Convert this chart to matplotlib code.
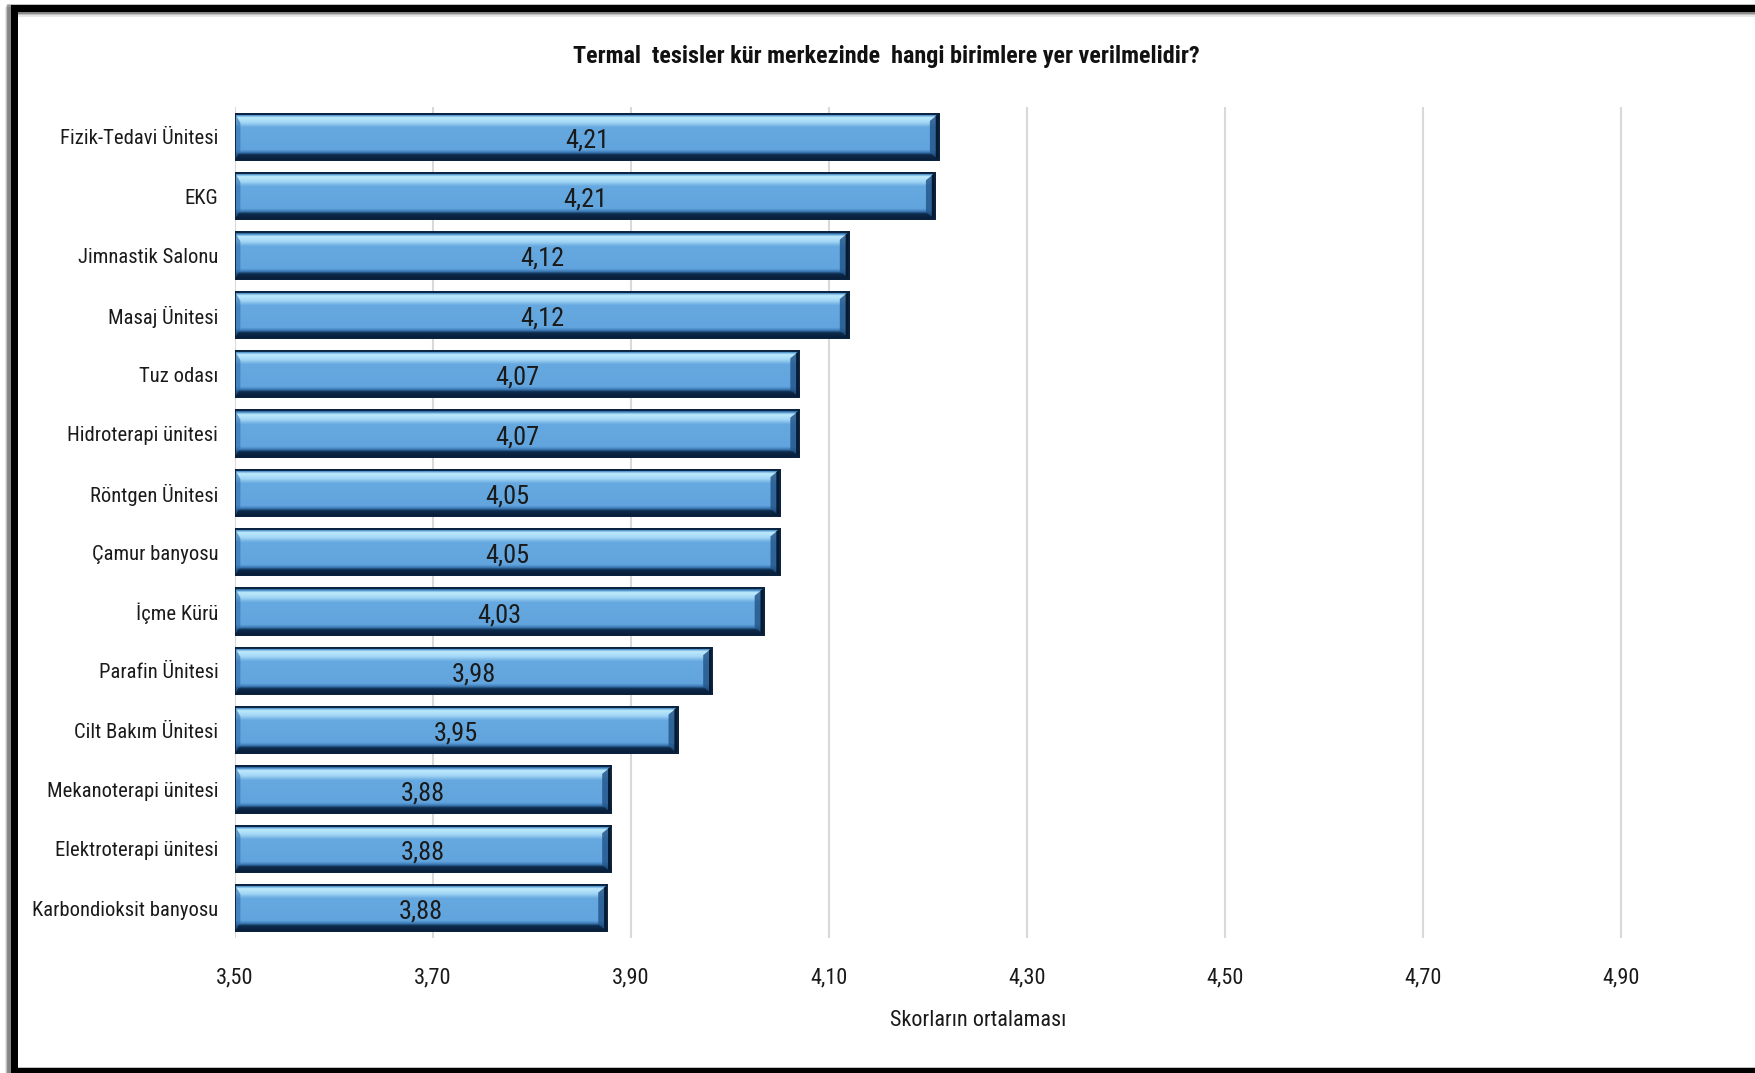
import numpy as np
import matplotlib
matplotlib.use("Agg")
import matplotlib.pyplot as plt
from matplotlib import font_manager
from matplotlib.patches import Polygon, Rectangle
from matplotlib.lines import Line2D
from matplotlib.ticker import FixedLocator, FuncFormatter

# ---- data -------------------------------------------------------------
categories = [
    "Fizik-Tedavi Ünitesi",
    "EKG",
    "Jimnastik Salonu",
    "Masaj Ünitesi",
    "Tuz odası",
    "Hidroterapi ünitesi",
    "Röntgen Ünitesi",
    "Çamur banyosu",
    "İçme Kürü",
    "Parafin Ünitesi",
    "Cilt Bakım Ünitesi",
    "Mekanoterapi ünitesi",
    "Elektroterapi ünitesi",
    "Karbondioksit banyosu",
]
scores = [4.211, 4.207, 4.12, 4.12, 4.07, 4.07, 4.05, 4.05, 4.034,
          3.982, 3.947, 3.88, 3.88, 3.876]
x_ticks = [3.50, 3.70, 3.90, 4.10, 4.30, 4.50, 4.70, 4.90]
x_min, x_max = 3.50, 5.10

title = "Termal  tesisler kür merkezinde  hangi birimlere yer verilmelidir?"
x_label = "Skorların ortalaması"

# ---- fonts: prefer a condensed sans face if one is installed -------------
entries = font_manager.fontManager.ttflist
names = {f.name for f in entries}
family, stretch = "Roboto", "normal"
for cand in ["Roboto Condensed", "Liberation Sans Narrow", "Open Sans Condensed"]:
    if cand in names:
        family = cand
        break
else:
    cond = [f for f in entries
            if f.stretch in ("condensed", "semi-condensed", "extra-condensed")
            and "sans" in f.name.lower() and "mono" not in f.name.lower()]
    if cond:
        family, stretch = cond[0].name, cond[0].stretch
    elif "Roboto" not in names:
        family = "Liberation Sans"
plt.rcParams["font.family"] = [family, "DejaVu Sans"]
plt.rcParams["font.stretch"] = stretch

W, H, DPI = 1755, 1073, 100
fig = plt.figure(figsize=(W / DPI, H / DPI), dpi=DPI, facecolor="white")
renderer = fig.canvas.get_renderer()


def fit_size(text, target_px, max_size, weight="normal"):
    """Largest font size (<= max_size) whose rendered width fits target_px."""
    t = fig.text(0, 0, text, fontsize=max_size, fontweight=weight)
    wpx = t.get_window_extent(renderer).width
    t.remove()
    return min(max_size, max_size * target_px / wpx)


cat_size = min(fit_size(c, 186, 18) for c in categories)
title_size = fit_size(title, 630, 19, "bold")
val_size = fit_size("4,21", 46, 19)
tick_size = fit_size("3,50", 40, 16)
xlabel_size = fit_size(x_label, 176, 17)

# plot area: right part runs past the figure edge
ax = fig.add_axes([235 / W, 1 - 938 / H, (1819 - 235) / W, (938 - 107) / H])
ax.set_facecolor("white")

n = len(categories)
ypos = np.arange(n)
bar_h = 0.78
widths = np.array(scores) - x_min

bars = ax.barh(ypos, widths, left=x_min, height=bar_h, color="#62a5de",
               edgecolor="#0c2544", linewidth=1.3, zorder=3)

ax.set_xlim(x_min, x_max)
ax.set_ylim(n - 0.5, -0.5)

# vertical shading profile of each bar (top -> bottom)
stops = [
    (0.00, "#1c3d62"),
    (0.04, "#3f86c6"),
    (0.09, "#bde9fc"),
    (0.20, "#a4d7f6"),
    (0.30, "#66a9e0"),
    (0.78, "#62a5de"),
    (0.84, "#3c7ab6"),
    (0.89, "#0d2c4e"),
    (1.00, "#081d36"),
]
pos = np.array([s[0] for s in stops])
cols = np.array([matplotlib.colors.to_rgb(s[1]) for s in stops])
rows = np.linspace(0, 1, 120)
grad = np.stack([np.interp(rows, pos, cols[:, k]) for k in range(3)], axis=1)
grad = grad[:, None, :]

px_per_unit = (ax.get_position().width * W) / (x_max - x_min)
bevel = 9 / px_per_unit  # right-end bevel, in data units

for p in bars:
    x0, y0 = p.get_x(), p.get_y()
    w, h = p.get_width(), p.get_height()
    im = ax.imshow(grad, extent=(x0, x0 + w, y0 + h, y0), aspect="auto",
                   interpolation="bilinear", zorder=3.1, origin="upper")
    im.set_clip_path(p)
    x1 = x0 + w
    # darker bevel at the right end
    ax.add_patch(Polygon([(x1 - bevel, y0 + 0.16 * h), (x1, y0),
                          (x1, y0 + h), (x1 - bevel, y0 + 0.84 * h)],
                         closed=True, facecolor="#24588d", edgecolor="none",
                         alpha=0.85, zorder=3.2))
    ax.add_patch(Polygon([(x1 - 0.35 * bevel, y0 + 0.05 * h), (x1, y0),
                          (x1, y0 + h), (x1 - 0.35 * bevel, y0 + 0.95 * h)],
                         closed=True, facecolor="#071a30", edgecolor="none",
                         zorder=3.3))
    # small bevel at the left end
    ax.add_patch(Polygon([(x0, y0), (x0 + 0.6 * bevel, y0 + 0.2 * h),
                          (x0 + 0.6 * bevel, y0 + 0.8 * h), (x0, y0 + h)],
                         closed=True, facecolor="#2e6fae", edgecolor="none",
                         alpha=0.6, zorder=3.2))
    ax.add_patch(Rectangle((x0, y0), w, h, fill=False, edgecolor="#0a213d",
                           linewidth=1.3, zorder=3.4))

# value labels inside bars
for yi, v in zip(ypos, scores):
    ax.text((x_min + v) / 2, yi + 0.06, f"{v:.2f}".replace(".", ","),
            ha="center", va="center", fontsize=val_size, color="#1a1a1a",
            zorder=5)

# axes styling
ax.xaxis.set_major_locator(FixedLocator(x_ticks))
ax.xaxis.set_major_formatter(FuncFormatter(lambda v, _: f"{v:.2f}".replace(".", ",")))
ax.grid(axis="x", color="#d9d9d9", linewidth=1.5, zorder=0)
ax.set_axisbelow(True)
for s in ax.spines.values():
    s.set_visible(False)
ax.set_yticks(ypos)
ax.set_yticklabels(categories)
ax.tick_params(axis="y", length=0, pad=12, labelsize=cat_size, labelcolor="#1a1a1a")
ax.tick_params(axis="x", length=0, pad=21, labelsize=tick_size, labelcolor="#1a1a1a")

fig.text(886 / W, 1 - 56 / H, title, ha="center", va="center",
         fontsize=title_size, fontweight="bold", color="#111111")
fig.text(978 / W, 1 - 1021 / H, x_label, ha="center", va="center",
         fontsize=xlabel_size, color="#1a1a1a")


# black frame with a soft shadow (open on the right)
def fx(px):
    return px / W


def fy(py):
    return 1 - py / H


lw_pt = 7 * 72 / DPI
for off, a in [(4, 0.10), (2.5, 0.18), (1.2, 0.28)]:
    fig.add_artist(Line2D([fx(W + 20), fx(13.5 - off), fx(13.5 - off), fx(W + 20)],
                          [fy(7.5 + off), fy(7.5 + off), fy(1070.5 + off), fy(1070.5 + off)],
                          color="black", alpha=a, linewidth=lw_pt + 2,
                          solid_joinstyle="miter"))
fig.add_artist(Line2D([fx(W + 20), fx(13.5), fx(13.5), fx(W + 20)],
                      [fy(7.5), fy(7.5), fy(1070.5), fy(1070.5)],
                      color="black", linewidth=lw_pt, solid_joinstyle="miter"))

fig.savefig("out.png", dpi=DPI, facecolor="white")
